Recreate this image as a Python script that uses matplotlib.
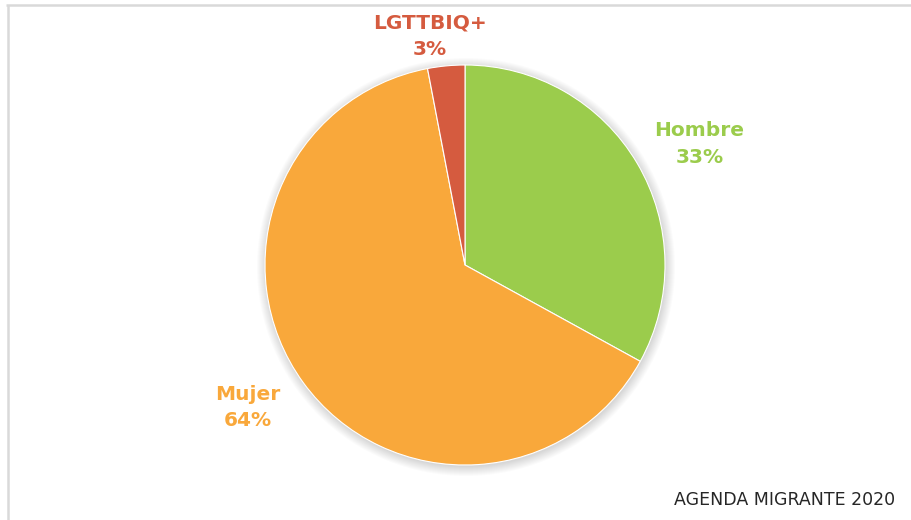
import matplotlib
matplotlib.use("Agg")
import matplotlib.pyplot as plt
import numpy as np

categories = ["Hombre", "Mujer", "LGTTBIQ+"]
values = [33, 64, 3]
pct_labels = ["33%", "64%", "3%"]
colors = ["#9BCC4C", "#F9A83B", "#D55B3F"]

# label layout (radius multiples and angle offsets from wedge mid-angle)
label_dist = [1.32, 1.30, 1.155]
label_ang_off = [-3.3, -2.8, 3.3]

W, H = 912, 520
fig = plt.figure(figsize=(W / 100, H / 100), dpi=100)
ax = fig.add_axes([0, 0, 1, 1])
ax.set_xlim(0, W)
ax.set_ylim(0, H)
ax.set_aspect("equal")
ax.axis("off")

cx, cy, r = 465, H - 265, 200

# soft shadow
for k in range(10):
    ax.add_patch(plt.Circle((cx + 1, cy - 2), r + 9 - k, color="black",
                            alpha=0.016, lw=0, zorder=1))

wedges, _ = ax.pie(values, colors=colors, startangle=90, counterclock=False,
                   center=(cx, cy), radius=r, frame=True,
                   wedgeprops=dict(linewidth=0.8, edgecolor="white", zorder=2))
for w in wedges:
    w.set_zorder(2)
ax.set_xlim(0, W)
ax.set_ylim(0, H)
ax.axis("off")

for w, cat, pl, col, d, off in zip(wedges, categories, pct_labels, colors,
                                   label_dist, label_ang_off):
    ang = np.deg2rad((w.theta1 + w.theta2) / 2 + off)
    x = cx + d * r * np.cos(ang)
    y = cy + d * r * np.sin(ang)
    ax.text(x, y, f"{cat}\n{pl}", ha="center", va="center", color=col,
            fontsize=14.5, fontweight="bold", linespacing=1.5, zorder=3)

ax.text(895, H - 505, "AGENDA MIGRANTE 2020", ha="right", va="baseline",
        fontsize=12.5, color="#262626")

# frame lines (top and left)
ax.plot([6, W], [H - 5, H - 5], color="#d9d9d9", lw=1.8, solid_capstyle="butt")
ax.plot([8, 8], [0, H - 5], color="#d9d9d9", lw=1.8, solid_capstyle="butt")

fig.savefig("out.png", dpi=100, facecolor="white")
